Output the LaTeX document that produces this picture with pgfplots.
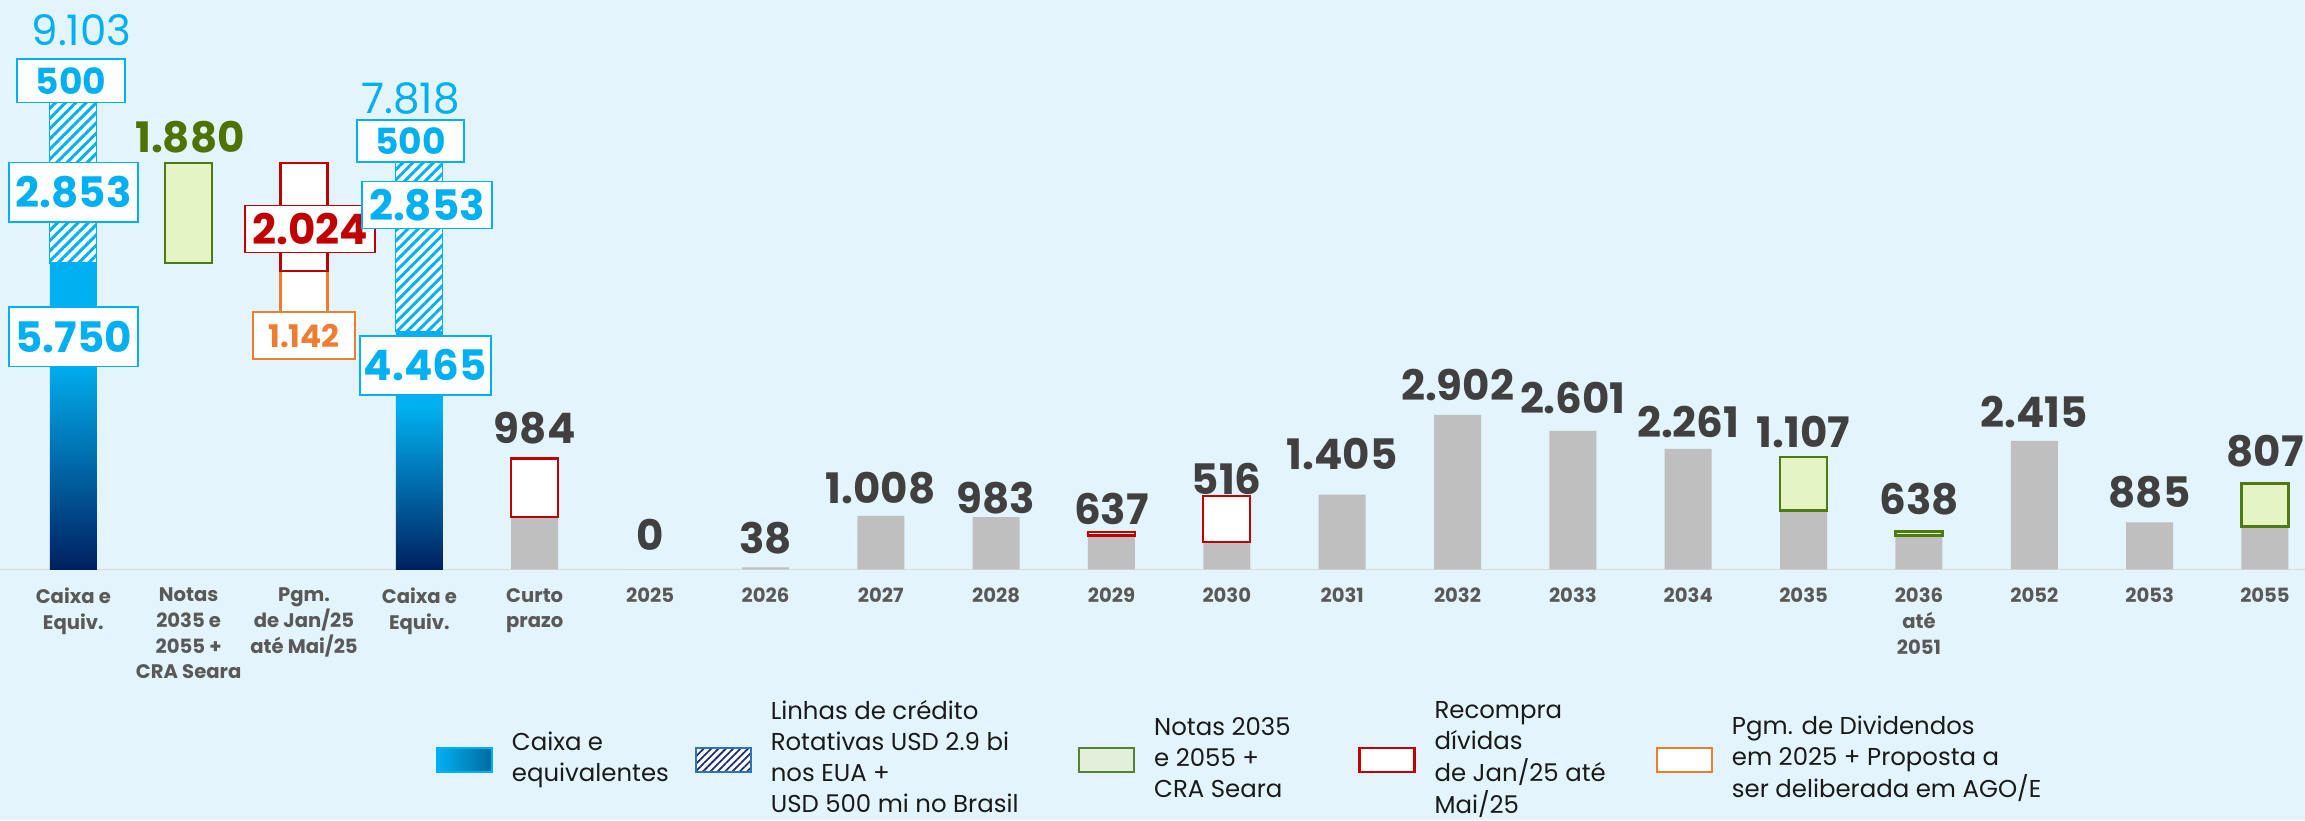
\documentclass[border=0pt]{standalone}
\usepackage{pgfplots}
\pgfplotsset{compat=1.18}
\usepackage{fontspec}
\setmainfont{Poppins}
\usetikzlibrary{patterns.meta}
\definecolor{bgc}{HTML}{E3F4FC}
\definecolor{cyanc}{HTML}{00B0F0}
\definecolor{navyc}{HTML}{002060}
\definecolor{grayc}{HTML}{BFBFBF}
\definecolor{labc}{HTML}{404040}
\definecolor{tickc}{HTML}{595959}
\definecolor{gfill}{HTML}{E5F4C4}
\definecolor{gline}{HTML}{4E7A12}
\definecolor{gtext}{HTML}{4F7300}
\definecolor{redc}{HTML}{C00000}
\definecolor{orc}{HTML}{ED7D31}
\definecolor{basec}{HTML}{D9D9D9}
\definecolor{legblue}{HTML}{2E75B6}
\definecolor{legnavy}{HTML}{1F2E7A}
\definecolor{leggfill}{HTML}{E2EFDA}
\definecolor{leggline}{HTML}{548235}
\definecolor{legcdark}{HTML}{006A9E}
\definecolor{legtext}{HTML}{1A1A1A}
\pgfdeclareverticalshading{cashgrad}{100bp}{color(0bp)=(navyc); color(25bp)=(navyc); color(59bp)=(cyanc); color(100bp)=(cyanc)}
\newcommand\fval{\bfseries\fontsize{21}{21}\selectfont}
\newcommand\fvalr{\fontsize{21}{21}\selectfont}
\newcommand\fsmall{\bfseries\fontsize{18}{18}\selectfont}
\newcommand\fxs{\bfseries\fontsize{15.6}{15.6}\selectfont}
\newcommand\ftick{\bfseries\fontsize{9.8}{12.85}\selectfont}
\newcommand\fleg{\fontsize{12.2}{15.5}\selectfont}
\tikzset{lbox/.style={draw=#1, fill=white, line width=0.7pt, inner sep=0pt}}
\begin{document}
\begin{tikzpicture}
\useasboundingbox (0,0) rectangle (1152.5pt,410pt);
\fill[bgc] (0,0) rectangle (1152.5pt,410pt);
\clip (0,0) rectangle (1152.5pt,410pt);
\begin{axis}[
  at={(0,0)}, anchor=south west,
  scale only axis, width=1152.5pt, height=410pt,
  xmin=-0.6355, xmax=19.347, ymin=-4700, ymax=10685,
  axis line style={draw=none}, tick style={draw=none}, major tick length=0pt,
  ytick=\empty,
  xtick={0,...,19},
  xticklabels={{Caixa e\\Equiv.},{Notas\\2035 e\\2055 +\\CRA Seara},{Pgm.\\de Jan/25\\até Mai/25},{Caixa e\\Equiv.},{Curto\\prazo},2025,2026,2027,2028,2029,2030,2031,2032,2033,2034,2035,{2036\\até\\2051},2052,2053,2055},
  xticklabel style={align=center, anchor=north, inner sep=0pt, yshift=116.15pt, font=\ftick, text=tickc},
  extra y ticks={0}, extra y tick labels={},
  extra y tick style={grid=major, major grid style={draw=basec, line width=0.75pt}},
  clip=false,
  legend columns=5,
  legend cell align=left,
  legend image code/.code={\draw[#1] (0pt,-6pt) rectangle (27.5pt,6pt);},
  legend style={at={(0.18915,0.0732)}, anchor=west, draw=none, fill=none, inner sep=0pt, column sep=0pt, nodes={inner sep=0pt, text depth=}, font=\fleg, text=legtext, /tikz/every odd column/.append style={column sep=9.5pt}},
]
% gray maturity bars
\addplot[ybar, bar width=23.5pt, bar shift=0pt, fill=grayc, draw=none, forget plot] coordinates {
 (4,984) (5,0) (6,38) (7,1008) (8,983) (9,637) (10,516) (11,1405) (12,2902) (13,2601) (14,2261) (15,1107) (16,638) (17,2415) (18,885) (19,807)};
% cash bars
\addplot[ybar, bar width=23.5pt, bar shift=0pt, draw=none, shade, shading=cashgrad, forget plot] coordinates {(0,5750)};
\addplot[ybar, bar width=23.5pt, bar shift=0pt, draw=none, shade, shading=cashgrad, forget plot] coordinates {(3,4465)};
% revolving credit lines (hatched)
\addplot[draw=cyanc, line width=0.6pt, preaction={fill=white}, pattern={Lines[angle=45,distance=3.6pt,line width=1.5pt]}, pattern color=cyanc, forget plot] coordinates {(-0.2037,5750) (0.2037,5750) (0.2037,9103) (-0.2037,9103)} -- cycle;
\addplot[draw=cyanc, line width=0.6pt, preaction={fill=white}, pattern={Lines[angle=45,distance=3.6pt,line width=1.5pt]}, pattern color=cyanc, forget plot] coordinates {(2.7963,4465) (3.2037,4465) (3.2037,7818) (2.7963,7818)} -- cycle;
% Notas 2035 e 2055 + CRA Seara
\addplot[draw=gline, line width=1.15pt, fill=gfill, forget plot] coordinates {(0.7963,5750) (1.2037,5750) (1.2037,7630) (0.7963,7630)} -- cycle;
\addplot[draw=gline, line width=1.15pt, fill=gfill, forget plot] coordinates {(14.7963,1107) (15.2037,1107) (15.2037,2107) (14.7963,2107)} -- cycle;
\addplot[draw=gline, line width=1.15pt, fill=gfill, forget plot] coordinates {(15.7963,638) (16.2037,638) (16.2037,713) (15.7963,713)} -- cycle;
\addplot[draw=gline, line width=1.15pt, fill=gfill, forget plot] coordinates {(18.7963,807) (19.2037,807) (19.2037,1612) (18.7963,1612)} -- cycle;
% dividends (orange) and buybacks (red)
\addplot[draw=orc, line width=1.15pt, fill=white, forget plot] coordinates {(1.7963,4464) (2.2037,4464) (2.2037,5606) (1.7963,5606)} -- cycle;
\addplot[draw=redc, line width=1.15pt, fill=white, forget plot] coordinates {(1.7963,5606) (2.2037,5606) (2.2037,7630) (1.7963,7630)} -- cycle;
\addplot[draw=redc, line width=1.15pt, fill=white, forget plot] coordinates {(3.7963,984) (4.2037,984) (4.2037,2084) (3.7963,2084)} -- cycle;
\addplot[draw=redc, line width=1.15pt, fill=white, forget plot] coordinates {(8.7963,637) (9.2037,637) (9.2037,701) (8.7963,701)} -- cycle;
\addplot[draw=redc, line width=1.15pt, fill=white, forget plot] coordinates {(9.7963,516) (10.2037,516) (10.2037,1376) (9.7963,1376)} -- cycle;
% legend
\addlegendimage{left color=cyanc, right color=legcdark, draw=cyanc, line width=0.8pt}
\addlegendentry{\makebox[91.5pt][l]{\begin{tabular}{@{}l@{}}Caixa e\\equivalentes\end{tabular}}}
\addlegendimage{draw=legblue, line width=1pt, preaction={fill=white}, pattern={Lines[angle=45,distance=2.6pt,line width=0.9pt]}, pattern color=legnavy}
\addlegendentry{\makebox[153.5pt][l]{\begin{tabular}{@{}l@{}}Linhas de crédito\\Rotativas USD 2.9 bi\\nos EUA +\\USD 500 mi no Brasil\end{tabular}}}
\addlegendimage{draw=leggline, line width=1.2pt, fill=leggfill}
\addlegendentry{\makebox[102pt][l]{\begin{tabular}{@{}l@{}}Notas 2035\\e 2055 +\\CRA Seara\end{tabular}}}
\addlegendimage{draw=redc, line width=1.2pt, fill=white}
\addlegendentry{\makebox[110.5pt][l]{\begin{tabular}{@{}l@{}}Recompra\\dívidas\\de Jan/25 até\\Mai/25\end{tabular}}}
\addlegendimage{draw=orc, line width=1.2pt, fill=white}
\addlegendentry{\makebox[180pt][l]{\begin{tabular}{@{}l@{}}Pgm. de Dividendos\\em 2025 + Proposta a\\ser deliberada em AGO/E\end{tabular}}}
% labels, left block
\node[font=\fvalr, text=cyanc] at (axis cs:0.071,10122) {9.103};
\node[lbox=cyanc, minimum width=54pt, minimum height=21.8pt, font=\fsmall, text=cyanc] at (axis cs:-0.02,9169) {500};
\node[lbox=cyanc, minimum width=64.5pt, minimum height=29.7pt, font=\fval, text=cyanc] at (axis cs:0.002,7077) {2.853};
\node[lbox=cyanc, minimum width=64.5pt, minimum height=29.7pt, font=\fval, text=cyanc] at (axis cs:0.002,4366) {5.750};
\node[font=\fval, text=gtext] at (axis cs:1.012,8107) {1.880};
\node[lbox=redc, minimum width=65pt, minimum height=23.5pt, font=\fval, text=redc] at (axis cs:2.052,6388) {2.024};
\node[lbox=orc, minimum width=51pt, minimum height=23.5pt, font=\fxs, text=orc] at (axis cs:2.0,4390) {1.142};
\node[font=\fvalr, text=cyanc] at (axis cs:2.923,8846) {7.818};
\node[lbox=cyanc, minimum width=53.5pt, minimum height=21pt, font=\fsmall, text=cyanc] at (axis cs:2.923,8039) {500};
\node[lbox=cyanc, minimum width=65pt, minimum height=23.25pt, font=\fval, text=cyanc] at (axis cs:3.066,6839) {2.853};
\node[lbox=cyanc, minimum width=65.5pt, minimum height=29.5pt, font=\fval, text=cyanc] at (axis cs:3.052,3827) {4.465};
% labels, maturities
\node[font=\fval, text=labc] at (axis cs:4,2655) {984};
\node[font=\fval, text=labc] at (axis cs:5,657) {0};
\node[font=\fval, text=labc] at (axis cs:6,582) {38};
\node[font=\fval, text=labc] at (axis cs:7,1529) {1.008};
\node[font=\fval, text=labc] at (axis cs:8,1341) {983};
\node[font=\fval, text=labc] at (axis cs:9,1144) {637};
\node[font=\fval, text=labc] at (axis cs:10,1698) {516};
\node[font=\fval, text=labc] at (axis cs:11,2167) {1.405};
\node[font=\fval, text=labc] at (axis cs:12,3462) {2.902};
\node[font=\fval, text=labc] at (axis cs:13,3218) {2.601};
\node[font=\fval, text=labc] at (axis cs:14,2758) {2.261};
\node[font=\fval, text=labc] at (axis cs:15,2570) {1.107};
\node[font=\fval, text=labc] at (axis cs:16,1313) {638};
\node[font=\fval, text=labc] at (axis cs:17,2946) {2.415};
\node[font=\fval, text=labc] at (axis cs:18,1454) {885};
\node[font=\fval, text=labc] at (axis cs:19,2214) {807};
\end{axis}
\end{tikzpicture}
\end{document}
